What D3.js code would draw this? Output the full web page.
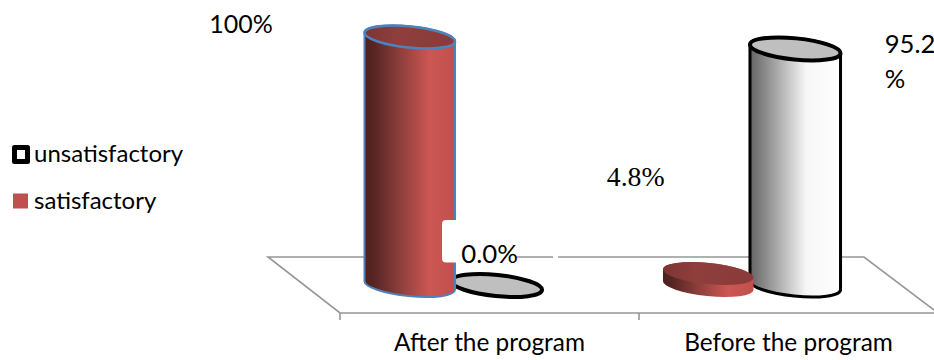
<!DOCTYPE html>
<html>
<head>
<meta charset="utf-8">
<script src="https://cdn.jsdelivr.net/npm/d3@7"></script>
<style>
  html, body { margin: 0; padding: 0; background: #fff; overflow: hidden; }
  svg { display: block; }
  text { font-family: Lato, "Open Sans", sans-serif; fill: #000; }
  text.serif, text.serif tspan { font-family: "Liberation Serif", serif; }
</style>
</head>
<body>
<svg id="chart" width="934" height="360"></svg>
<script>
// Programme outcome data
const categories = ["After the program", "Before the program"];
const seriesNames = ["satisfactory", "unsatisfactory"];
const satisfactory = [100, 4.8];
const unsatisfactory = [0, 95.2];
const satisfactoryLabels = ["100%", "4.8%"];
const unsatisfactoryLabels = ["0.0%", "95.2\n%"];
const legendOrder = ["unsatisfactory", "satisfactory"];

const svg = d3.select("#chart");
const defs = svg.append("defs");

// Layout of the tilted floor
const floorBackY = 257, floorFrontY = 313;
const backX = [268, 864], frontX = [340, 938];

const xFront = d3.scaleBand().domain(categories).range(frontX);
const xMid = d3.scaleBand().domain(categories).range([304, 901]);
const xSeries = d3.scaleBand().domain(seriesNames).range([-87, 87]);
const y = d3.scaleLinear().domain([0, 100]).range([285.5, 37]);

// Cylinder cross-section
const rx = 45.5, ry = 10.6, tiltDeg = 5.7;
const tilt = tiltDeg * Math.PI / 180;
const dx = rx * Math.cos(tilt), dy = rx * Math.sin(tilt);

function addGradient(id, stops) {
  const g = defs.append("linearGradient").attr("id", id)
    .attr("x1", 0).attr("x2", 1).attr("y1", 0).attr("y2", 0);
  stops.forEach(([o, c]) => g.append("stop").attr("offset", o).attr("stop-color", c));
}
addGradient("redSide", [[0, "#4e2120"], [0.1, "#562523"], [0.4, "#8f3f3c"], [0.72, "#cc5753"], [1, "#c0504d"]]);
addGradient("redTop", [[0, "#7c3533"], [0.35, "#8f3e3c"], [1, "#8a3b39"]]);
addGradient("greySide", [[0, "#636363"], [0.3, "#a9a9a9"], [0.62, "#f6f6f6"], [1, "#ffffff"]]);

function sidePath(cx, yTop, yBase) {
  return `M${cx - dx},${yTop - dy}L${cx - dx},${yBase - dy}` +
    `A${rx},${ry} ${tiltDeg} 0 0 ${cx + dx},${yBase + dy}` +
    `L${cx + dx},${yTop + dy}` +
    `A${rx},${ry} ${tiltDeg} 0 0 ${cx - dx},${yTop - dy}Z`;
}

// Floor
const floorColor = "#969696";
const floor = svg.append("g").attr("fill", "none").attr("stroke", floorColor).attr("stroke-width", 1.6);
floor.append("path").attr("d",
  `M${frontX[1]},${floorFrontY}L${frontX[0]},${floorFrontY}L${backX[0]},${floorBackY}L${backX[1]},${floorBackY}L${frontX[1]},${floorFrontY}`);

// Tick marks fall on the band edges
floor.selectAll("line.edge")
  .data([xFront.range()[0], xFront.range()[0] + xFront.step(), xFront.range()[1]])
  .join("line").attr("class", "edge")
  .attr("x1", d => d).attr("x2", d => d)
  .attr("y1", floorFrontY).attr("y2", floorFrontY + 7);

// Category labels
const axis = svg.append("g")
  .attr("transform", `translate(0,${floorFrontY})`)
  .call(d3.axisBottom(xFront).tickSize(0).tickPadding(21));
axis.select(".domain").remove();
axis.selectAll("text").attr("font-size", 24.4).attr("fill", "#000")
  .style("font-family", "Lato, sans-serif");

// Marks, back to front
function cylinder(cat, series, value, style) {
  const cx = xMid(cat) + xMid.bandwidth() / 2 + xSeries(series) + xSeries.bandwidth() / 2;
  const yTop = y(value), yBase = y(0);
  const g = svg.append("g");
  if (value > 0) {
    g.append("path").attr("d", sidePath(cx, yTop, yBase))
      .attr("fill", style.side).attr("stroke", style.stroke).attr("stroke-width", style.sideWidth)
      .attr("stroke-linejoin", "round");
  }
  g.append("ellipse")
    .attr("transform", `translate(${cx},${yTop}) rotate(${tiltDeg})`)
    .attr("rx", rx).attr("ry", ry)
    .attr("fill", style.top).attr("stroke", style.stroke).attr("stroke-width", style.topWidth);
}

const greyStyle = { side: "url(#greySide)", top: "#bfbfbf", stroke: "#000", sideWidth: 3, topWidth: 4 };
const redStyle = { side: "url(#redSide)", top: "url(#redTop)", stroke: "#4f81bd", sideWidth: 2, topWidth: 2.6 };
const flatRedStyle = { side: "url(#redSide)", top: "url(#redTop)", stroke: "none", sideWidth: 0, topWidth: 0 };

categories.forEach((cat, i) => {
  cylinder(cat, "unsatisfactory", unsatisfactory[i], greyStyle);
  cylinder(cat, "satisfactory", satisfactory[i], unsatisfactory[i] >= satisfactory[i] ? flatRedStyle : redStyle);
});

// White backing behind the 0.0% label
svg.append("rect").attr("x", 442).attr("y", 220).attr("width", 22).attr("height", 42.5)
  .attr("rx", 4).attr("fill", "#fff");
svg.append("rect").attr("x", 455).attr("y", 254).attr("width", 60).attr("height", 8).attr("fill", "#fff");
svg.append("rect").attr("x", 553).attr("y", 254).attr("width", 5).attr("height", 6).attr("fill", "#fff");

// Value labels, offset from the top of each mark
function labelAnchor(cat, series, value) {
  return [xMid(cat) + xMid.bandwidth() / 2 + xSeries(series) + xSeries.bandwidth() / 2, y(value)];
}
function valueLabel(text, anchor, off, size, cls) {
  const t = svg.append("text").attr("font-size", size).attr("class", cls || null);
  text.split("\n").forEach((line, k) => {
    t.append("tspan").attr("x", anchor[0] + off[0]).attr("y", anchor[1] + off[1] + k * 35).text(line);
  });
}
valueLabel(satisfactoryLabels[0], labelAnchor(categories[0], "satisfactory", satisfactory[0]), [-200.5, -4], 25);
valueLabel(satisfactoryLabels[1], labelAnchor(categories[1], "satisfactory", satisfactory[1]), [-101.5, -87.5], 27.8, "serif");
valueLabel(unsatisfactoryLabels[0], labelAnchor(categories[0], "unsatisfactory", unsatisfactory[0]), [-35.5, -22.5], 25.8);
valueLabel(unsatisfactoryLabels[1], labelAnchor(categories[1], "unsatisfactory", unsatisfactory[1]), [89.5, 4], 25.6);

// Legend
const legendY = d3.scalePoint().domain(legendOrder).range([154, 201]);
const legend = svg.append("g").selectAll("g").data(legendOrder).join("g")
  .attr("transform", d => `translate(0,${legendY(d)})`);
legend.each(function (d) {
  const g = d3.select(this);
  if (d === "unsatisfactory") {
    g.append("rect").attr("x", 12).attr("y", -9).attr("width", 18).attr("height", 19)
      .attr("rx", 2.5).attr("fill", "#000");
    g.append("rect").attr("x", 17).attr("y", -4).attr("width", 8).attr("height", 9).attr("fill", "#fff");
  } else {
    g.append("rect").attr("x", 13).attr("y", -7.5).attr("width", 15).attr("height", 15).attr("fill", "#c0504d");
  }
});
legend.append("text").attr("x", 34).attr("y", 7.5).attr("font-size", 24).text(d => d);
</script>
</body>
</html>
